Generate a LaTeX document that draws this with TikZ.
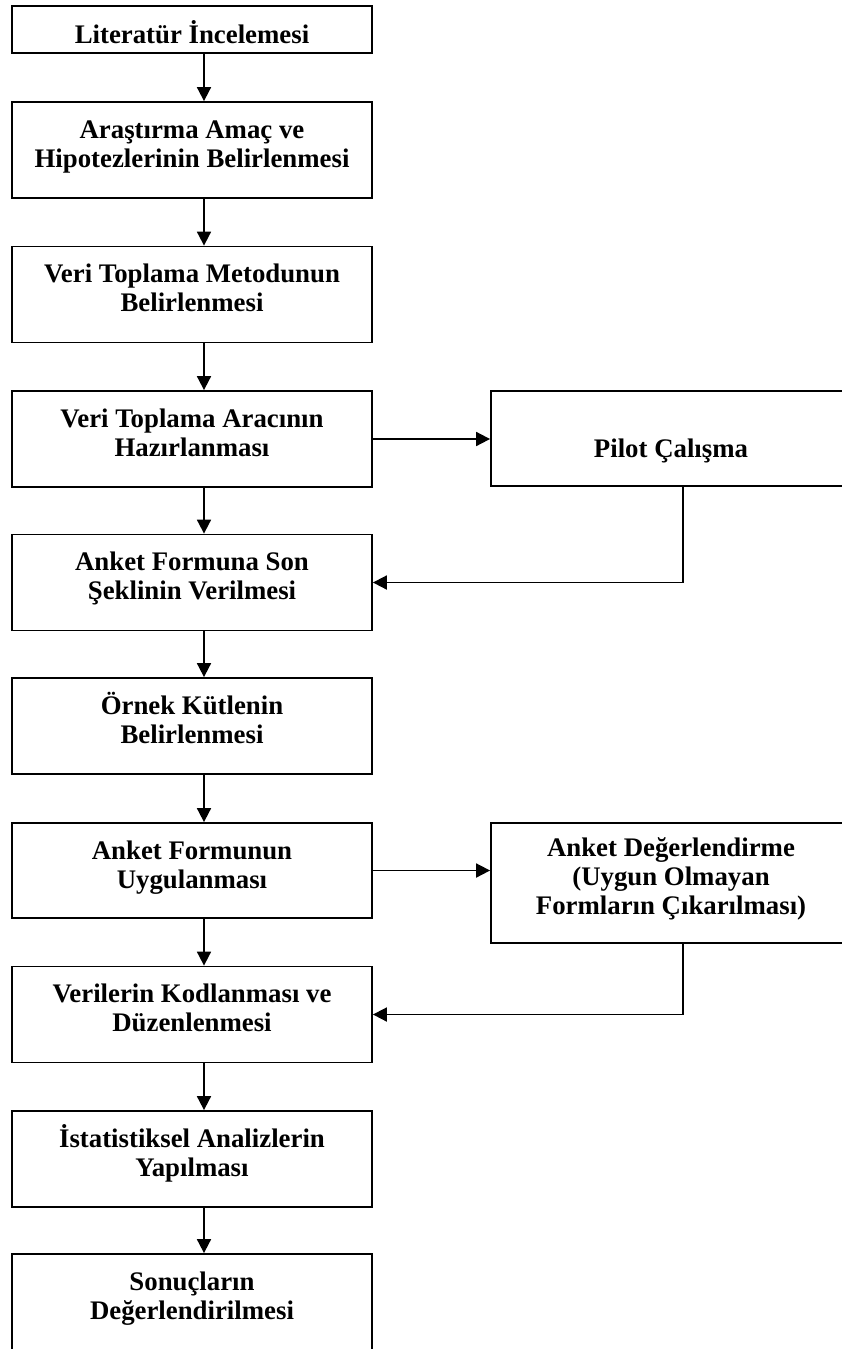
\documentclass[tikz,border=0pt]{standalone}
\usepackage{fontspec}
\setmainfont{Liberation Serif}
\usetikzlibrary{arrows.meta}
\begin{document}
\begin{tikzpicture}[x=1pt,y=-1pt,
  stepbox/.style={draw, line width=1.8pt, minimum width=360pt, minimum height=96pt,
    align=center, inner sep=0pt, text height=65pt, text depth=31pt,
    font=\fontsize{26.8}{29}\selectfont\bfseries},
  flow/.style={line width=1.8pt, -{Triangle[length=14pt,width=14pt]}}]
\useasboundingbox (0,0) rectangle (841,1349);

% main column
\node[stepbox, minimum height=47pt, text height=37pt, text depth=10pt] (b1) at (192,29.5) {Literatür İncelemesi};
\node[stepbox] (b2) at (192,150) {Araştırma Amaç ve\\Hipotezlerinin Belirlenmesi};
\node[stepbox] (b3) at (192,294.5) {Veri Toplama Metodunun\\Belirlenmesi};
\node[stepbox] (b4) at (192,439) {Veri Toplama Aracının\\Hazırlanması};
\node[stepbox] (b5) at (192,582.5) {Anket Formuna Son\\Şeklinin Verilmesi};
\node[stepbox] (b6) at (192,726) {Örnek Kütlenin\\Belirlenmesi};
\node[stepbox, minimum height=95pt, text depth=30pt] (b7) at (192,870.5) {Anket Formunun\\Uygulanması};
\node[stepbox] (b8) at (192,1014.5) {Verilerin Kodlanması ve\\Düzenlenmesi};
\node[stepbox] (b9) at (192,1159) {İstatistiksel Analizlerin\\Yapılması};
\node[stepbox, minimum height=97pt, text depth=32pt] (b10) at (192,1302.5) {Sonuçların\\Değerlendirilmesi};

% side steps
\node[stepbox, minimum height=95pt, text height=66pt, text depth=29pt] (p1) at (671,438.5) {Pilot Çalışma};
\node[stepbox, minimum height=120pt, text height=91pt, text depth=29pt] (p2) at (671,883) {Anket Değerlendirme\\(Uygun Olmayan\\Formların Çıkarılması)};

% vertical flow
\foreach \a/\b in {b1/b2,b2/b3,b3/b4,b4/b5,b5/b6,b6/b7,b7/b8,b8/b9,b9/b10}
  \draw[flow] ([xshift=12pt]\a.south) -- ([xshift=12pt]\b.north);

% side branches and feedback
\draw[flow] (b4.east) -- (b4.east -| p1.west);
\coordinate (f1) at ([xshift=12pt]p1.south);
\draw[flow] (f1) |- (b5.east);
\draw[flow] (b7.east) -- (b7.east -| p2.west);
\coordinate (f2) at ([xshift=12pt]p2.south);
\draw[flow] (f2) |- (b8.east);
\end{tikzpicture}
\end{document}
